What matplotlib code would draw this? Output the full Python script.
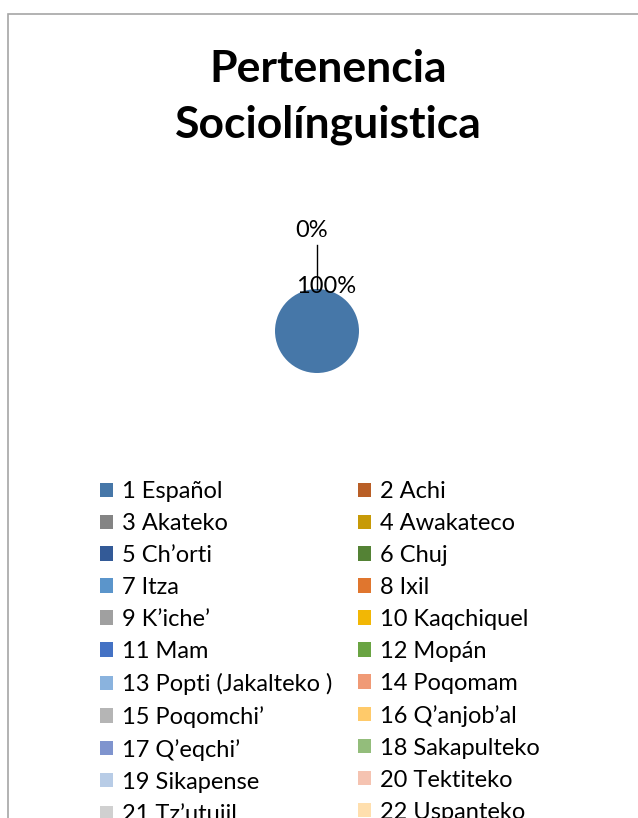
import matplotlib
matplotlib.use('Agg')
import matplotlib.pyplot as plt
from matplotlib.patches import Rectangle, Patch

plt.rcParams['font.family'] = ['Lato', 'DejaVu Sans']

# data
languages = ['1 Español', '2 Achi', '3 Akateko', '4 Awakateco', '5 Ch\u2019orti', '6 Chuj',
             '7 Itza', '8 Ixil', '9 K\u2019iche\u2019', '10 Kaqchiquel', '11 Mam', '12 Mopán',
             '13 Popti (Jakalteko )', '14 Poqomam', '15 Poqomchi\u2019', '16 Q\u2019anjob\u2019al',
             '17 Q\u2019eqchi\u2019', '18 Sakapulteko', '19 Sikapense', '20 Tektiteko',
             '21 Tz\u2019utujil', '22 Uspanteko']
counts = [30, 0, 0, 0, 0, 0, 0, 0, 0, 0, 0, 0, 0, 0, 0, 0, 0, 0, 0, 0, 0, 0]
colors = ['#4677A8', '#B95F27', '#848484', '#C79A07', '#335A97', '#548235',
          '#5B95CB', '#E0762E', '#A0A0A0', '#F2B705', '#4472C4', '#6AA443',
          '#8AB3DE', '#F09A76', '#B5B5B5', '#FFCA6A', '#7F94CE', '#93BD7B',
          '#B8CCE6', '#F5C3B1', '#D0D0D0', '#FFDFAE']

W, H = 638, 818
fig = plt.figure(figsize=(W / 100, H / 100), dpi=100)

# chart border
fig.patches.append(Rectangle((8 / W, -0.1), 1.2, 1 - 14 / H + 0.1, transform=fig.transFigure,
                             fill=False, edgecolor='#A6A6A6', linewidth=1.2))

fig.text(328 / W, 1 - 97 / H, 'Pertenencia\nSociolínguistica', ha='center', va='center',
         fontsize=32, fontweight='bold', linespacing=1.48)

# pie: 1 unit = 42 px
cx, cy = 317 / W, 1 - 331 / H
aw, ah = 252 / W, 252 / H
ax = fig.add_axes([cx - aw / 2, cy - ah / 2, aw, ah])
wedges, _ = ax.pie(counts, colors=colors, radius=1, startangle=90, counterclock=False,
                   wedgeprops=dict(linewidth=0))
ax.set_xlim(-3, 3)
ax.set_ylim(-3, 3)
ax.set_aspect('equal')
ax.axis('off')

total = sum(counts)
pct_first = 100 * counts[0] / total
pct_rest = 100 * counts[1] / total
ax.text(0.21, 1.05, '%d%%' % round(pct_first), ha='center', va='center', fontsize=17)
ax.text(-0.12, 2.4, '%d%%' % round(pct_rest), ha='center', va='center', fontsize=17)
ax.plot([0, 0], [2.05, 1.0], color='black', linewidth=1)

# legend, two columns read row by row
handles = [Patch(facecolor=c, edgecolor='none') for c in colors]
for col, x0 in [(0, 100), (1, 358)]:
    idx = list(range(col, len(languages), 2))
    fig.legend([handles[i] for i in idx], [languages[i] for i in idx],
               loc='upper left', bbox_to_anchor=(x0 / W, 1 - 481 / H),
               frameon=False, fontsize=17, handlelength=0.55, handleheight=0.55,
               handletextpad=0.38, labelspacing=0.465, borderaxespad=0, borderpad=0)

fig.savefig('out.png', dpi=100)
